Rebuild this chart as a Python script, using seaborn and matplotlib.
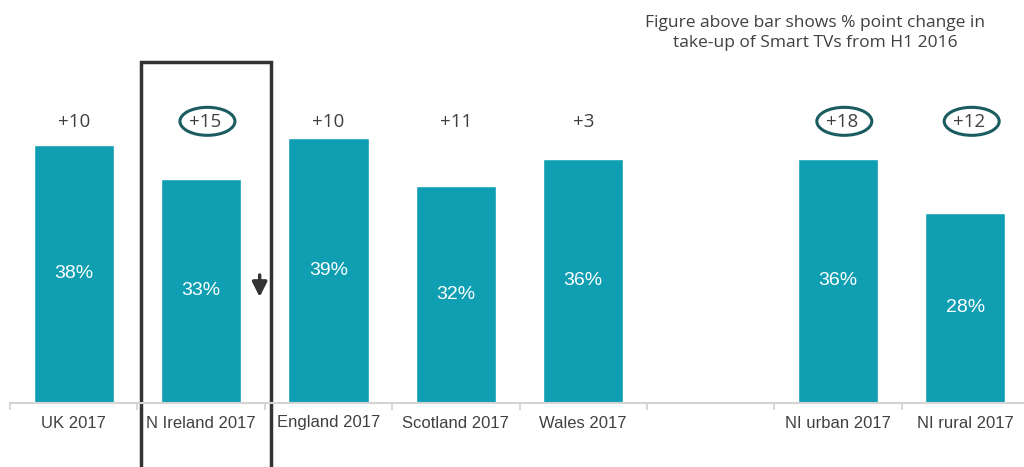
import numpy as np
import pandas as pd
import matplotlib
matplotlib.use("Agg")
import matplotlib.pyplot as plt
from matplotlib.patches import Ellipse, Rectangle
import seaborn as sns

# ---- data ----
categories = ["UK 2017", "N Ireland 2017", "England 2017", "Scotland 2017",
              "Wales 2017", "NI urban 2017", "NI rural 2017"]
values = [38, 33, 39, 32, 36, 36, 28]
changes = ["+10", "+15", "+10", "+11", "+3", "+18", "+12"]
circled = [False, True, False, False, False, True, True]
slot_order = ["UK 2017", "N Ireland 2017", "England 2017", "Scotland 2017",
              "Wales 2017", "gap", "NI urban 2017", "NI rural 2017"]
tick_labels = ["UK 2017", "N Ireland 2017", "England 2017", "Scotland 2017",
               "Wales 2017", "", "NI urban 2017", "NI rural 2017"]
note = "Figure above bar shows % point change in\ntake-up of Smart TVs from H1 2016"

BAR = "#109FB2"
TXT = "#404040"
RING = "#1B5C61"

sns.set_style("white")
plt.rcParams["font.family"] = ["Liberation Sans", "DejaVu Sans"]

fig = plt.figure(figsize=(10.24, 4.67), dpi=100)
px_per_unit = 6.79
ax = fig.add_axes([10 / 1024, 64 / 467, 1019 / 1024, 403 / 467])

df = pd.DataFrame({"cat": categories, "val": values})
sns.barplot(data=df, x="cat", y="val", order=slot_order, color=BAR,
            saturation=1, width=0.63, ax=ax)

ax.set_xlim(-0.5, 7.5)
ax.set_ylim(0, 403 / px_per_unit)
ax.set_xlabel("")
ax.set_ylabel("")
ax.set_yticks([])

for s in ["left", "top", "right"]:
    ax.spines[s].set_visible(False)
ax.spines["bottom"].set_color("#D4D4D4")
ax.spines["bottom"].set_linewidth(1.5)

ax.set_xticks(range(len(slot_order)))
ax.set_xticklabels(tick_labels, fontsize=12, color=TXT)
ax.tick_params(axis="x", which="major", length=0, pad=9, bottom=True)
ax.set_xticks(np.arange(-0.5, len(slot_order), 1.0), minor=True)
ax.tick_params(axis="x", which="minor", length=5, width=1.3, color="#D4D4D4",
               direction="out", bottom=True)

label_y = (403 - 122) / px_per_unit
pos = [slot_order.index(c) for c in categories]
for x, v, ch, circ in zip(pos, values, changes, circled):
    ax.text(x, v / 2, f"{v}%", ha="center", va="center", color="white",
            fontsize=14)
    ax.text(x + (0.03 if circ else 0), label_y, ch, ha="center", va="center",
            color=TXT, fontsize=13.5, family=["Open Sans", "DejaVu Sans"])
    if circ:
        ax.add_patch(Ellipse((x + 0.05, label_y + 0.1), 55 / 127.4,
                             28 / px_per_unit, fill=False, edgecolor=RING,
                             lw=2.2, clip_on=False))

# highlight box around N Ireland
ax.add_patch(Rectangle((0.527, -9.6), 1.02, 59.8, fill=False,
                       edgecolor="#333333", lw=2.5, clip_on=False))
ax.annotate("", xy=(1.46, (403 - 297) / px_per_unit),
            xytext=(1.46, (403 - 275) / px_per_unit),
            arrowprops=dict(arrowstyle="-|>", color="#333333", lw=2.5,
                            mutation_scale=22, shrinkA=0, shrinkB=0))

fig.text(815 / 1024, 1 - 33 / 467, note, ha="center", va="center",
         fontsize=12.5, color=TXT, linespacing=1.35,
         family=["Open Sans", "DejaVu Sans"])

fig.savefig("out.png", dpi=100)
